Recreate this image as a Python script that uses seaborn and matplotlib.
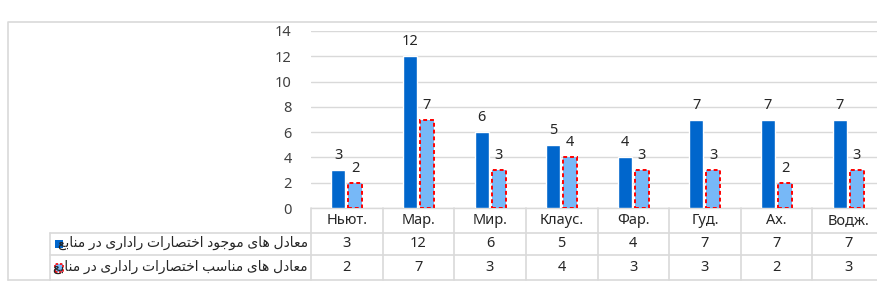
import pandas as pd
import matplotlib
matplotlib.use("Agg")
import matplotlib.pyplot as plt
import matplotlib.transforms as mtransforms
from matplotlib.patches import Rectangle
from matplotlib.lines import Line2D
import seaborn as sns

# data
categories = ["Ньют.", "Мар.", "Мир.", "Клаус.", "Фар.", "Гуд.", "Ах.", "Водж."]
existing = [3, 12, 6, 5, 4, 7, 7, 7]
suitable = [2, 7, 3, 4, 3, 3, 2, 3]
series_names = ["معادل های موجود اختصارات راداری در منابع",
                "معادل های مناسب اختصارات راداری در منابع"]
y_ticks = [0, 2, 4, 6, 8, 10, 12, 14]

# small Arabic/Persian shaper (matplotlib draws left to right without joining)
FORMS = {  # isolated, final, initial, medial
    "ا": ("\uFE8D", "\uFE8E", None, None),
    "ب": ("\uFE8F", "\uFE90", "\uFE91", "\uFE92"),
    "ت": ("\uFE95", "\uFE96", "\uFE97", "\uFE98"),
    "ج": ("\uFE9D", "\uFE9E", "\uFE9F", "\uFEA0"),
    "خ": ("\uFEA5", "\uFEA6", "\uFEA7", "\uFEA8"),
    "د": ("\uFEA9", "\uFEAA", None, None),
    "ر": ("\uFEAD", "\uFEAE", None, None),
    "س": ("\uFEB1", "\uFEB2", "\uFEB3", "\uFEB4"),
    "ص": ("\uFEB9", "\uFEBA", "\uFEBB", "\uFEBC"),
    "ع": ("\uFEC9", "\uFECA", "\uFECB", "\uFECC"),
    "ل": ("\uFEDD", "\uFEDE", "\uFEDF", "\uFEE0"),
    "م": ("\uFEE1", "\uFEE2", "\uFEE3", "\uFEE4"),
    "ن": ("\uFEE5", "\uFEE6", "\uFEE7", "\uFEE8"),
    "ه": ("\uFEE9", "\uFEEA", "\uFEEB", "\uFEEC"),
    "و": ("\uFEED", "\uFEEE", None, None),
    "ی": ("\uFEEF", "\uFEF0", "\uFEF3", "\uFEF4"),
}


def shape(text):
    out = []
    for i, ch in enumerate(text):
        if ch not in FORMS:
            out.append(ch)
            continue
        prev = text[i - 1] if i > 0 else ""
        nxt = text[i + 1] if i + 1 < len(text) else ""
        join_prev = prev in FORMS and FORMS[prev][2] is not None
        join_next = FORMS[ch][2] is not None and nxt in FORMS
        iso, fin, ini, med = FORMS[ch]
        if join_prev and join_next:
            out.append(med)
        elif join_prev:
            out.append(fin)
        elif join_next:
            out.append(ini)
        else:
            out.append(iso)
    return "".join(reversed(out))


df = pd.DataFrame({
    "category": categories * 2,
    "value": existing + suitable,
    "series": [series_names[0]] * len(categories) + [series_names[1]] * len(categories),
})

sns.set_theme(style="white")
plt.rcParams["font.family"] = ["Noto Sans", "DejaVu Sans"]

W, H = 878, 294
fig = plt.figure(figsize=(W / 100, H / 100), dpi=100)
fx = lambda px: px / W
fy = lambda py: 1 - py / H

ax = fig.add_axes([fx(311), fy(208), fx(884) - fx(311), fy(31) - fy(208)])

dark = "#0066CC"
light = "#77B8F7"
grid_c = "#D9D9D9"
text_c = "#404040"

sns.barplot(data=df, x="category", y="value", hue="series", order=categories,
            hue_order=series_names, palette=[dark, light], width=0.476, gap=0.18,
            saturation=1, legend=False, ax=ax, zorder=3)

# red dashed edge on the second series
for bar in ax.containers[1]:
    bar.set_edgecolor("#FF0000")
    bar.set_linestyle((0, (2, 1.5)))
    bar.set_linewidth(1.4)

for cont, vals in zip(ax.containers, [existing, suitable]):
    ax.bar_label(cont, labels=[str(v) for v in vals], padding=5, fontsize=10.5, color="#262626")

ax.set_xlim(-0.5, len(categories) - 0.5)
ax.set_ylim(0, 14)
ax.set_yticks(y_ticks)
ax.set_yticklabels([str(t) for t in y_ticks], fontsize=10.5, color=text_c)
ax.tick_params(axis="y", length=0, pad=14)
ax.set_xticks([])
ax.set_xlabel("")
ax.set_ylabel("")
ax.yaxis.grid(True, color=grid_c, linewidth=1, zorder=0)
for s in ["top", "right", "left"]:
    ax.spines[s].set_visible(False)
ax.spines["bottom"].set_color(grid_c)
ax.spines["bottom"].set_linewidth(1)

# data table below the plot
trans = mtransforms.blended_transform_factory(ax.transData, fig.transFigure)
row_top, row1, row2, row_bot = 208, 232.5, 255, 280
for i, cat in enumerate(categories):
    fig.text(0, 0, "")
    ax.text(i, fy((row_top + row1) / 2), cat, transform=trans, ha="center", va="center",
            fontsize=10.5, color="#262626", clip_on=False)
    ax.text(i, fy((row1 + row2) / 2), str(existing[i]), transform=trans, ha="center",
            va="center", fontsize=10.5, color="#262626", clip_on=False)
    ax.text(i, fy((row2 + row_bot) / 2), str(suitable[i]), transform=trans, ha="center",
            va="center", fontsize=10.5, color="#262626", clip_on=False)
for i in range(len(categories) + 1):
    fig.add_artist(Line2D([i - 0.5, i - 0.5], [fy(row_top), fy(row_bot)], transform=trans,
                          color=grid_c, linewidth=1.2))

# horizontal table lines
for yy in [row1, row2, row_bot]:
    fig.add_artist(Line2D([fx(50), 1.01], [fy(yy), fy(yy)], transform=fig.transFigure,
                          color=grid_c, linewidth=1.2))
fig.add_artist(Line2D([fx(50), fx(50)], [fy(row1), fy(row_bot)], transform=fig.transFigure,
                      color=grid_c, linewidth=1.2))

# outer chart border
fig.add_artist(Line2D([fx(8), fx(8), 1.01], [fy(280), fy(22), fy(22)], transform=fig.transFigure,
                      color=grid_c, linewidth=1.2))
fig.add_artist(Line2D([fx(8), fx(50)], [fy(280), fy(280)], transform=fig.transFigure,
                      color=grid_c, linewidth=1.2))

# row labels with legend keys
for yy_a, yy_b, name, kind in [(row1, row2, series_names[0], 0), (row2, row_bot, series_names[1], 1)]:
    yc = (yy_a + yy_b) / 2
    fig.text(fx(308), fy(yc), shape(name), ha="right", va="center", fontsize=10,
             color="#262626")
    if kind == 0:
        key = Rectangle((fx(55), fy(yc + 4)), fx(8), fy(0) - fy(8), transform=fig.transFigure,
                        facecolor=dark, edgecolor="none")
    else:
        key = Rectangle((fx(55), fy(yc + 4)), fx(8), fy(0) - fy(8), transform=fig.transFigure,
                        facecolor=light, edgecolor="#FF0000", linestyle=(0, (1.5, 1)),
                        linewidth=1.2)
    fig.add_artist(key)

fig.savefig("out.png", dpi=100, facecolor="white")
